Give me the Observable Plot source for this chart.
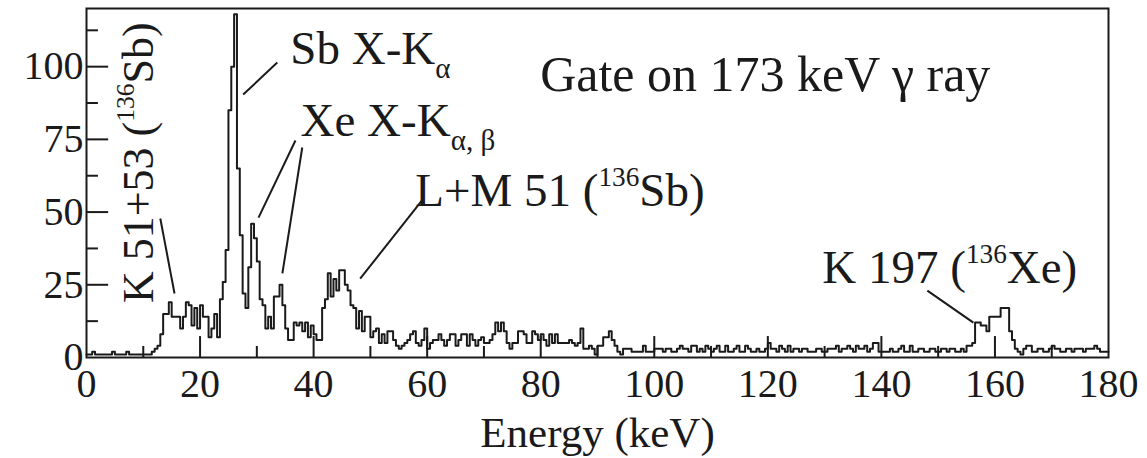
<!DOCTYPE html>
<html><head><meta charset="utf-8">
<script src="https://cdn.jsdelivr.net/npm/d3@7"></script>
<script src="https://cdn.jsdelivr.net/npm/@observablehq/plot@0.6"></script>
<style>body{margin:0;background:#fff}</style>
</head><body><div id="chart"></div>
<script>
// ---- data ----
const binWidth = 0.5; // keV per channel
const counts = [
  1,1,2,1,1,1,1,1,1,2, 1,1,1,1,2,1,1,1,1,1,          // 0-10
  1,1,1,2,3,4,8,15,15,19, 14,14,14,10,14,19,18,11,17,10, // 10-20
  18,14,14,7,10,15,7,20,26,37, 85,100,118,65,42,22,17,31,46,41, // 20-30
  33,20,18,10,14,10,21,21,25,18, 10,6,6,12,11,12,9,12,7,11, // 30-40
  8,6,6,17,20,29,21,27,23,30, 30,25,23,18,17,10,16,9,14,14, // 40-50
  7,9,10,5,8,5,9,9,6,4, 3,4,5,6,8,9,5,4,6,10,         // 50-60
  3,5,6,6,8,6,4,6,8,8, 4,6,8,8,4,8,6,4,6,7,           // 60-70
  5,5,6,8,12,9,12,9,5,3, 5,5,9,9,8,5,5,9,8,6,         // 70-80
  8,6,4,8,5,8,5,5,5,5, 6,5,4,5,10,3,3,4,3,1,          // 80-90
  4,4,7,7,9,6,4,2,1,3, 3,3,2,2,2,2,4,2,2,2,           // 90-100
  3,3,3,2,3,3,2,2,3,4, 3,3,2,4,4,2,3,2,4,3,           // 100-110
  2,3,4,2,2,4,2,2,3,4, 2,2,4,3,2,2,3,2,2,3,           // 110-120
  5,3,3,2,4,3,2,4,2,3, 3,2,3,3,2,2,2,3,3,2,           // 120-130
  2,3,3,3,4,2,3,3,4,3, 2,4,3,3,4,2,3,5,5,2,           // 130-140
  2,2,2,3,2,2,3,4,2,2, 4,2,2,3,3,2,2,3,3,2,           // 140-150
  2,3,3,2,3,3,2,2,3,2, 4,4,5,12,12,11,11,9,14,14,     // 150-160
  14,14,17,17,17,9,6,3,2,1, 3,4,4,2,2,3,3,2,2,3,      // 160-170
  4,3,3,2,2,3,3,2,3,3, 3,2,3,3,3,4,3,2,2,2            // 170-180
];
const xTickLabels = [0,20,40,60,80,100,120,140,160,180];
const xMinorTicks = [10,30,50,70,90,110,130,150,170];
const yTickLabels = [0,25,50,75,100];
const yMinorTicks = [12.5,37.5,62.5,87.5,112.5];
const axisTitle = "Energy (keV)";

const labelTexts = ["Sb X-K_{α}", "Xe X-K_{α, β}", "L+M 51 (^{136}Sb)", "K 197 (^{136}Xe)"];
const labelE = [35.9, 37.7, 57.9, 129.6];
const labelV = [106.2, 81.4, 57.4, 30.9];
const gateText = ["Gate on 173 keV γ ray"];
const gateE = [79.9];
const gateV = [97.2];
const vertLabel = ["K 51+53 (^{136}Sb)"];
const vertE = [9.15];
const vertV = [67];

const leaderE1 = [27.6, 30.3, 34.5, 48.2, 15.5, 156.2];
const leaderV1 = [90.4, 48.1, 28.9, 27.1, 22.0, 12.0];
const leaderE2 = [33.6, 36.8, 38.0, 59.2, 13.0, 148.1];
const leaderV2 = [101.4, 74.6, 72.2, 54.3, 47.8, 23.0];

// ---- build tables ----
const hist = counts.map((c, i) => ({e: i * binWidth, c}));
hist.push({e: counts.length * binWidth, c: counts[counts.length - 1]});
const labels = labelTexts.map((t, i) => ({t, x: labelE[i], y: labelV[i]}));
const gate = gateText.map((t, i) => ({t, x: gateE[i], y: gateV[i]}));
const vlabels = vertLabel.map((t, i) => ({t, x: vertE[i], y: vertV[i]}));
const leaders = leaderE1.map((_, i) => ({x1: leaderE1[i], y1: leaderV1[i], x2: leaderE2[i], y2: leaderV2[i]}));

const INK = "#1a1a1a";
const FONT = "Liberation Serif, Times New Roman, serif";
const xMajorInner = xTickLabels.filter(d => d > 0 && d < 180);
const yMajorInner = yTickLabels.filter(d => d > 0);

const chart = Plot.plot({
  width: 1147, height: 458,
  marginLeft: 86, marginRight: 39, marginTop: 8, marginBottom: 101,
  style: {fontFamily: FONT, background: "white", color: INK},
  x: {domain: [0, 180], label: null},
  y: {domain: [0, 120], label: null},
  marks: [
    Plot.ruleX(xMajorInner, {x: d => d, y1: 0, y2: 7.2, stroke: INK, strokeWidth: 2}),
    Plot.ruleX(xMinorTicks, {x: d => d, y1: 0, y2: 3.8, stroke: INK, strokeWidth: 2}),
    Plot.ruleY(yMajorInner, {y: d => d, x1: 0, x2: 3.9, stroke: INK, strokeWidth: 2}),
    Plot.ruleY(yMinorTicks, {y: d => d, x1: 0, x2: 2.1, stroke: INK, strokeWidth: 2}),
    Plot.line(hist, {x: "e", y: "c", curve: "step-after", stroke: INK, strokeWidth: 2}),
    Plot.frame({stroke: INK, strokeWidth: 2}),
    Plot.axisX({ticks: xTickLabels, tickSize: 0, tickPadding: 11, fontSize: 40, tickFormat: d => String(d), label: null}),
    Plot.axisY({ticks: yTickLabels, tickSize: 0, tickPadding: 3, fontSize: 40, tickFormat: d => String(d), label: null}),
    Plot.text([axisTitle], {frameAnchor: "bottom", dy: 76, lineAnchor: "middle", fontSize: 43, fill: INK}),
    Plot.link(leaders, {x1: "x1", y1: "y1", x2: "x2", y2: "y2", stroke: INK, strokeWidth: 2}),
    Plot.text(labels, {x: "x", y: "y", text: "t", textAnchor: "start", fontSize: 47, fill: INK}),
    Plot.text(gate, {x: "x", y: "y", text: "t", textAnchor: "start", fontSize: 50, fill: INK}),
    Plot.text(vlabels, {x: "x", y: "y", text: "t", rotate: -90, textAnchor: "middle", fontSize: 44, fill: INK})
  ]
});
document.getElementById("chart").append(chart);

// turn _{..} / ^{..} markup into sub/superscript tspans
const NS = "http://www.w3.org/2000/svg";
chart.querySelectorAll("text").forEach(t => {
  const s = t.textContent;
  if (!/[_^]\{/.test(s)) return;
  const fs = parseFloat(getComputedStyle(t).fontSize) || 44;
  const parts = s.split(/(_\{[^}]*\}|\^\{[^}]*\})/).filter(p => p.length);
  while (t.firstChild) t.removeChild(t.firstChild);
  let cur = 0;
  parts.forEach(p => {
    const ts = document.createElementNS(NS, "tspan");
    let target = 0, txt = p;
    if (p.startsWith("_{")) { target = 0.3 * fs; txt = p.slice(2, -1); ts.setAttribute("font-size", 0.62 * fs); }
    else if (p.startsWith("^{")) { target = -0.42 * fs; txt = p.slice(2, -1); ts.setAttribute("font-size", 0.58 * fs); }
    if (target !== cur) ts.setAttribute("dy", target - cur);
    cur = target;
    ts.textContent = txt;
    t.appendChild(ts);
  });
});
</script>
</body></html>
